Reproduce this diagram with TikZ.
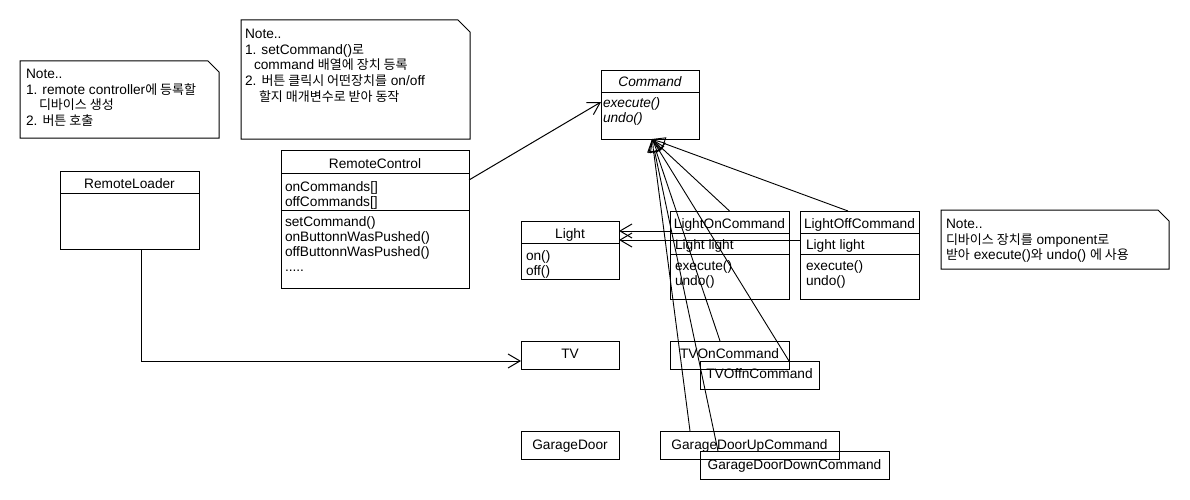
\documentclass[tikz,border=0pt]{standalone}
\usepackage{fontspec}
\setmainfont{Liberation Sans}
\newfontfamily\krfont{Noto Sans CJK KR}[Scale=0.95]
\newcommand\hg[1]{{\krfont #1}}
\usetikzlibrary{arrows.meta}
\begin{document}
\begin{tikzpicture}[x=1pt,y=-1pt,
  every node/.style={font=\fontsize{13.7}{16}\selectfont, inner sep=0pt, outer sep=0pt},
  box/.style={draw, line width=1pt, anchor=north west},
  lbl/.style={anchor=base west},
  ttl/.style={anchor=base},
  rule/.style={line width=1pt},
  assoc/.style={line width=1pt, -{Straight Barb[length=12pt,width=14pt]}},
  gen/.style={line width=0.9pt, -{Triangle[open,length=13pt,width=13pt]}},
  notebox/.style={draw, line width=1pt, line join=miter}
]
\useasboundingbox (0,0) rectangle (1190,500);

% ---------- notes ----------
\draw[notebox] (20,61) -- (208,61) -- (219,72) -- (219,138) -- (20,138) -- cycle;
\node[lbl] (n1a) at (26,79) {Note..};
\node[lbl] (n1b) at (26,94.5) {1. remote controller\hg{에 등록할}};
\node[lbl] (n1c) at (39,110) {\hg{디바이스 생성}};
\node[lbl] (n1d) at (26,125.5) {2. \hg{버튼 호출}};

\draw[notebox] (241,20) -- (458,20) -- (470,32) -- (470,139) -- (241,139) -- cycle;
\node[lbl] (n2a) at (245,38.5) {Note..};
\node[lbl] (n2b) at (245,54.5) {1. setCommand()\hg{로}};
\node[lbl] (n2c) at (254,70) {command \hg{배열에 장치 등록}};
\node[lbl] (n2d) at (245,86) {2. \hg{버튼 클릭시 어떤장치를} on/off};
\node[lbl] (n2e) at (259,102) {\hg{할지 매개변수로 받아 동작}};

\draw[notebox] (941,210) -- (1158,210) -- (1169,221) -- (1169,269) -- (941,269) -- cycle;
\node[lbl] (n3a) at (946,228.5) {Note..};
\node[lbl] (n3b) at (946,244.5) {\hg{디바이스 장치를} omponent\hg{로}};
\node[lbl] (n3c) at (946,259) {\hg{받아} execute()\hg{와} undo() \hg{에 사용}};

% ---------- Command ----------
\node[box, minimum width=98pt, minimum height=68pt] (cmd) at (601,71) {};
\draw[rule] (cmd.west |- 0,93) -- (cmd.east |- 0,93);
\node[ttl] (cmdT) at (cmd.center |- 0,87) {\itshape Command};
\node[lbl] (cmdA) at (603,107) {\itshape execute()};
\node[lbl] (cmdB) at (603,122) {\itshape undo()};

% ---------- RemoteControl ----------
\node[box, minimum width=188pt, minimum height=138pt] (rc) at (281,150) {};
\draw[rule] (rc.west |- 0,173) -- (rc.east |- 0,173);
\draw[rule] (rc.west |- 0,210) -- (rc.east |- 0,210);
\node[ttl] (rcT) at (rc.center |- 0,168) {RemoteControl};
\node[lbl] (rc1) at (285,191) {onCommands[]};
\node[lbl] (rc2) at (285,206) {offCommands[]};
\node[lbl] (rc3) at (285,226) {setCommand()};
\node[lbl] (rc4) at (285,241) {onButtonnWasPushed()};
\node[lbl] (rc5) at (285,256) {offButtonnWasPushed()};
\node[lbl] (rc6) at (285,271) {.....};

% ---------- RemoteLoader ----------
\node[box, minimum width=139pt, minimum height=78pt] (rl) at (60,171) {};
\draw[rule] (rl.west |- 0,193) -- (rl.east |- 0,193);
\node[ttl] (rlT) at (rl.center |- 0,188) {RemoteLoader};

% ---------- receivers ----------
\node[box, minimum width=98pt, minimum height=58pt] (light) at (521,221) {};
\draw[rule] (light.west |- 0,243) -- (light.east |- 0,243);
\node[ttl] (lightT) at (light.center |- 0,238) {Light};
\node[lbl] (light1) at (526,260) {on()};
\node[lbl] (light2) at (526,275) {off()};

\node[box, minimum width=98pt, minimum height=28pt] (tv) at (521,341) {};
\node[ttl] (tvT) at (tv.center |- 0,358) {TV};

\node[box, minimum width=98pt, minimum height=28pt] (gd) at (521,431) {};
\node[ttl] (gdT) at (gd.center |- 0,449) {GarageDoor};

% ---------- concrete commands ----------
\node[box, minimum width=119pt, minimum height=88pt] (lon) at (670,211) {};
\draw[rule] (lon.west |- 0,233) -- (lon.east |- 0,233);
\draw[rule] (lon.west |- 0,254) -- (lon.east |- 0,254);
\node[ttl] (lonT) at (lon.center |- 0,228) {LightOnCommand};
\node[lbl] (lon1) at (675,249) {Light light};
\node[lbl] (lon2) at (675,270) {execute()};
\node[lbl] (lon3) at (675,285) {undo()};

\node[box, minimum width=119pt, minimum height=88pt] (loff) at (800,211) {};
\draw[rule] (loff.west |- 0,233) -- (loff.east |- 0,233);
\draw[rule] (loff.west |- 0,254) -- (loff.east |- 0,254);
\node[ttl] (loffT) at (loff.center |- 0,228) {LightOffCommand};
\node[lbl] (loff1) at (806,249) {Light light};
\node[lbl] (loff2) at (806,270) {execute()};
\node[lbl] (loff3) at (806,285) {undo()};

\node[box, minimum width=119pt, minimum height=28pt] (tvon) at (670,341) {};
\node[ttl] (tvonT) at (tvon.center |- 0,358) {TVOnCommand};
\node[box, minimum width=119pt, minimum height=28pt] (tvoff) at (700,361) {};
\node[ttl] (tvoffT) at (tvoff.center |- 0,378) {TVOffnCommand};

\node[box, minimum width=179pt, minimum height=28pt] (gup) at (660,431) {};
\node[ttl] (gupT) at (gup.center |- 0,449) {GarageDoorUpCommand};
\node[box, minimum width=189pt, minimum height=28pt] (gdown) at (700,451) {};
\node[ttl] (gdownT) at (gdown.center |- 0,469) {GarageDoorDownCommand};

% ---------- associations ----------
\draw[assoc] (rc.east |- 0,180) -- (cmd.west |- 0,102);
\draw[assoc] (lon.west |- 0,231) -- (light.east |- 0,231);
\draw[assoc] (loff.west |- 0,240) -- (light.east |- 0,240);
\draw[assoc] (rl.south -| 141,0) |- (tv.west |- 0,361);

% ---------- generalizations ----------
\draw[gen] (lon.north) -- (cmd.south -| 652,0);
\draw[gen] (loff.north -| 848,0) -- (cmd.south -| 652,0);
\draw[gen] (tvon.north -| 720,0) -- (cmd.south -| 652,0);
\draw[gen] (tvoff.north -| 789,0) -- (cmd.south -| 652,0);
\draw[gen] (gup.north -| 690,0) -- (cmd.south -| 652,0);
\draw[gen] (gdown.north -| 718,0) -- (cmd.south -| 652,0);
\end{tikzpicture}
\end{document}
